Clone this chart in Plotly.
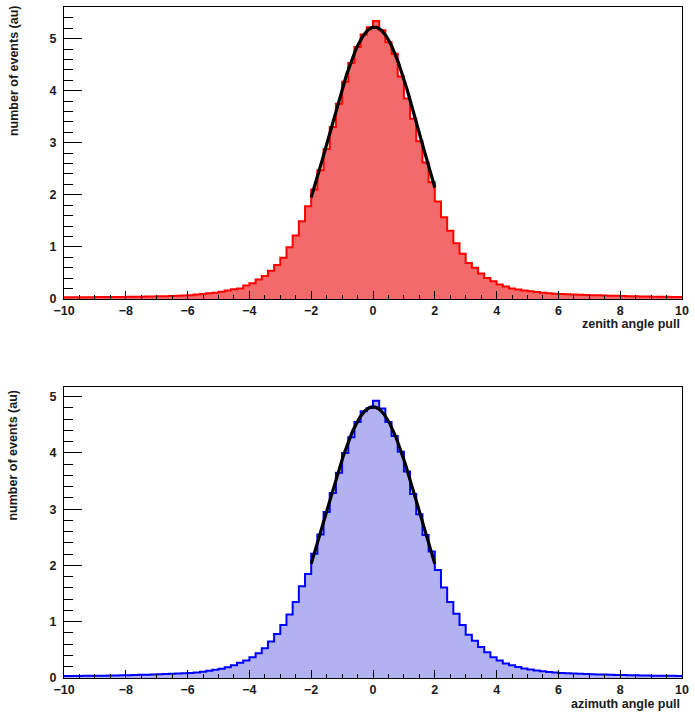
import numpy as np
import plotly.graph_objects as go

# Histogram binning: 100 bins of width 0.2 on [-10, 10]
bin_lo = -10.0
bin_width = 0.2
n_bins = 100

# Zenith angle pull, bin contents (au), left to right
zenith_counts = [
    0.030, 0.030, 0.031, 0.032, 0.033, 0.034, 0.035, 0.036, 0.037, 0.038,
    0.040, 0.041, 0.043, 0.045, 0.047, 0.050, 0.053, 0.056, 0.060,
    0.065, 0.072, 0.085, 0.095, 0.110, 0.120, 0.135, 0.160, 0.185, 0.200,
    0.256, 0.300, 0.370, 0.440, 0.540, 0.650, 0.790, 0.990, 1.220, 1.490,
    1.780, 2.100, 2.470, 2.880, 3.300, 3.750, 4.170, 4.530, 4.840, 5.080,
    5.220, 5.340, 5.160, 4.930, 4.710, 4.270, 3.850, 3.460, 3.030, 2.620,
    2.240, 1.870, 1.570, 1.310, 1.070, 0.865, 0.690, 0.600, 0.490, 0.400,
    0.340, 0.275, 0.240, 0.200, 0.180, 0.160, 0.146, 0.130, 0.120, 0.110,
    0.100, 0.095, 0.090, 0.085,
    0.080, 0.076, 0.072, 0.068, 0.065, 0.062, 0.059, 0.056, 0.053, 0.050,
    0.047, 0.045, 0.043, 0.041, 0.039, 0.037, 0.035,
]

# Azimuth angle pull, bin contents (au), left to right
azimuth_counts = [
    0.035, 0.036, 0.037, 0.038, 0.039, 0.040, 0.042, 0.044, 0.046, 0.048,
    0.050, 0.053, 0.056, 0.059, 0.062, 0.066, 0.070, 0.075, 0.080,
    0.085, 0.090, 0.100, 0.112, 0.130, 0.148, 0.165, 0.190, 0.225, 0.270,
    0.310, 0.370, 0.440, 0.530, 0.650, 0.780, 0.940, 1.130, 1.350, 1.630,
    1.850, 2.210, 2.550, 2.950, 3.290, 3.650, 4.000, 4.280, 4.550, 4.740,
    4.800, 4.930, 4.790, 4.550, 4.300, 4.020, 3.670, 3.270, 2.910, 2.540,
    2.250, 1.920, 1.610, 1.350, 1.140, 0.940, 0.770, 0.660, 0.550, 0.460,
    0.370, 0.310, 0.260, 0.225, 0.195, 0.170, 0.153, 0.135, 0.118, 0.105,
    0.100, 0.090, 0.085, 0.080,
    0.076, 0.072, 0.068, 0.064, 0.061, 0.058, 0.055, 0.052, 0.050, 0.048,
    0.046, 0.044, 0.042, 0.040, 0.039, 0.038, 0.037,
]

# Gaussian fit parameters (amplitude, mean, sigma) and fit range
zenith_fit = (5.22, 0.05, 1.46)
azimuth_fit = (4.82, 0.00, 1.52)
fit_range = (-2.0, 2.0)

x_tick_vals = [-10, -8, -6, -4, -2, 0, 2, 4, 6, 8, 10]
y_tick_vals = [0, 1, 2, 3, 4, 5]

x_titles = ["zenith angle pull", "azimuth angle pull"]
y_title = "number of events (au)"

edges = bin_lo + bin_width * np.arange(n_bins + 1)

TEXT = "#1a1a1a"
FONT = "Liberation Sans"

fig = go.Figure()


def add_hist(counts, fit, line_color, fill_color, xa, ya):
    counts = list(counts)
    xs = list(edges)
    ys = counts + [counts[-1]]
    fig.add_trace(go.Scatter(
        x=xs, y=ys, mode="lines", line=dict(shape="hv", color=line_color, width=2),
        fill="tozeroy", fillcolor=fill_color, xaxis=xa, yaxis=ya,
        showlegend=False, hoverinfo="skip"))
    a, mu, sig = fit
    xf = np.linspace(fit_range[0], fit_range[1], 200)
    yf = a * np.exp(-0.5 * ((xf - mu) / sig) ** 2)
    fig.add_trace(go.Scatter(
        x=xf, y=yf, mode="lines", line=dict(color="black", width=3.2),
        xaxis=xa, yaxis=ya, showlegend=False, hoverinfo="skip"))


add_hist(zenith_counts, zenith_fit, "#ff0000", "#f26a6a", "x", "y")
add_hist(azimuth_counts, azimuth_fit, "#0000ff", "#b2b2f0", "x2", "y2")

xaxis_common = dict(
    range=[-10, 10], tickvals=x_tick_vals, ticks="inside", ticklen=8,
    tickcolor="black", showline=True, mirror=True, linecolor="black",
    linewidth=1, showgrid=False, zeroline=False,
    tickfont=dict(family=FONT, size=12.5, color=TEXT, weight="bold"),
    minor=dict(dtick=0.5, ticks="inside", ticklen=4, tickcolor="black"),
    ticklabelstandoff=0,
)
yaxis_common = dict(
    tickvals=y_tick_vals, ticks="inside", ticklen=18, tickcolor="black",
    showline=True, mirror=True, linecolor="black", linewidth=1,
    showgrid=False, zeroline=False,
    tickfont=dict(family=FONT, size=12.5, color=TEXT, weight="bold"),
    minor=dict(dtick=0.2, ticks="inside", ticklen=9, tickcolor="black"),
    ticklabelstandoff=4,
)

fig.update_layout(
    width=695, height=712,
    margin=dict(l=64, r=8, t=6, b=34),
    paper_bgcolor="white", plot_bgcolor="white",
    xaxis=dict(domain=[0, 1], anchor="y", **xaxis_common),
    yaxis=dict(domain=[0.565, 1], anchor="x",
               range=[0, 1.05 * max(zenith_counts)], **yaxis_common),
    xaxis2=dict(domain=[0, 1], anchor="y2", **xaxis_common),
    yaxis2=dict(domain=[0, 0.434], anchor="x2",
                range=[0, 1.05 * max(azimuth_counts)], **yaxis_common),
)

title_font = dict(family=FONT, size=12.5, color=TEXT, weight="bold")
for ycen in (0.905, 0.332):
    fig.add_annotation(text=y_title, xref="paper", yref="paper",
                       x=-0.082, y=ycen, textangle=-90, showarrow=False,
                       xanchor="center", yanchor="middle", font=title_font)
for text, ycen in zip(x_titles, (0.5275, -0.0385)):
    fig.add_annotation(text=text, xref="paper", yref="paper",
                       x=1.0, y=ycen, showarrow=False,
                       xanchor="right", yanchor="middle", font=title_font)

fig.write_html("out.html")
